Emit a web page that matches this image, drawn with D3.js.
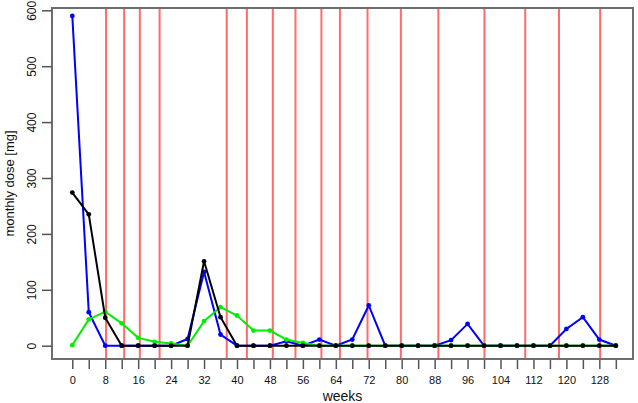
<!DOCTYPE html>
<html>
<head>
<meta charset="utf-8">
<script src="https://cdn.jsdelivr.net/npm/d3@7"></script>
<style>
  body { margin: 0; background: #fff; }
  text { font-family: "Liberation Sans", Arial, sans-serif; }
</style>
</head>
<body>
<svg id="chart" width="638" height="403"></svg>
<script>
// weeks sampled every 4 weeks
var weeks = d3.range(0, 133, 4);

var blueDose = [590, 60, 0, 0, 0, 0, 0, 12, 132, 20, 0, 0, 0, 8, 0, 11, 0, 11, 72, 0,
                0, 0, 0, 10, 39, 0, 0, 0, 0, 0, 30, 51, 11, 0];
var greenDose = [1, 47, 61, 40, 14, 7, 4, 0, 44, 69, 54, 27, 27, 11, 5, 0, 0, 0, 0, 0,
                 0, 0, 0, 0, 0, 0, 0, 0, 0, 0, 0, 0, 0, 0];
var blackDose = [274, 235, 50, 0, 0, 0, 0, 0, 151, 51, 0, 0, 0, 0, 0, 0, 0, 0, 0, 0,
                 0, 0, 0, 0, 0, 0, 0, 0, 0, 0, 0, 0, 0, 0];

// red marker lines (weeks)
var redLines = [8.2, 12.6, 16.4, 21.2, 37.5, 42.4, 48.7, 54.2, 60.5, 65, 71.7, 79.8,
                88.9, 100.1, 110, 118.2, 128.2];

var xTicks = d3.range(0, 133, 4);
var yTicks = [0, 100, 200, 300, 400, 500, 600];

var svg = d3.select("#chart");
var box = { left: 52, right: 633, top: 8, bottom: 359 };

var x = d3.scaleLinear().domain([0, 132]).range([72.3, 615.8]);
var y = d3.scaleLinear().domain([0, 600]).range([345.7, 10.3]);

// red vertical lines
svg.append("g")
  .selectAll("line")
  .data(redLines)
  .enter()
  .append("line")
    .attr("x1", d => x(d))
    .attr("x2", d => x(d))
    .attr("y1", box.top)
    .attr("y2", box.bottom)
    .attr("stroke", "#ff5050")
    .attr("stroke-opacity", 0.85)
    .attr("stroke-width", 2);

function drawSeries(values, color) {
  var pts = weeks.map((w, i) => ({ w: w, v: values[i] }));
  var line = d3.line().x(d => x(d.w)).y(d => y(d.v));
  svg.append("path")
    .datum(pts)
    .attr("d", line)
    .attr("fill", "none")
    .attr("stroke", color)
    .attr("stroke-width", 2);
  svg.append("g")
    .selectAll("circle")
    .data(pts)
    .enter()
    .append("circle")
      .attr("cx", d => x(d.w))
      .attr("cy", d => y(d.v))
      .attr("r", 2.4)
      .attr("fill", color);
}

drawSeries(blueDose, "#0000ff");
drawSeries(greenDose, "#00ee00");
drawSeries(blackDose, "#000000");

// box
svg.append("rect")
  .attr("x", box.left)
  .attr("y", box.top)
  .attr("width", box.right - box.left)
  .attr("height", box.bottom - box.top)
  .attr("fill", "none")
  .attr("stroke", "#6e6e6e")
  .attr("stroke-width", 2);

// x axis
var xAxis = d3.axisBottom(x)
  .tickValues(xTicks)
  .tickSize(9)
  .tickPadding(7)
  .tickFormat(d => d % 8 === 0 && d <= 128 ? d : "");

var gx = svg.append("g")
  .attr("transform", "translate(0," + (box.bottom + 1) + ")")
  .call(xAxis);
gx.select(".domain").remove();
gx.selectAll(".tick line").attr("stroke", "#555").attr("stroke-width", 1.5);
gx.selectAll(".tick text").attr("font-size", 11).attr("fill", "#111");

// y axis
var yAxis = d3.axisLeft(y)
  .tickValues(yTicks)
  .tickSize(10)
  .tickPadding(0);

var gy = svg.append("g")
  .attr("transform", "translate(" + box.left + ",0)")
  .call(yAxis);
gy.select(".domain").remove();
gy.selectAll(".tick line").attr("stroke", "#555").attr("stroke-width", 1.5);
gy.selectAll(".tick text")
  .attr("font-size", 12)
  .attr("fill", "#111")
  .attr("x", 0)
  .attr("dy", 0)
  .attr("text-anchor", "middle")
  .attr("transform", "translate(-16,0) rotate(-90)");

// axis titles
svg.append("text")
  .attr("x", (box.left + box.right) / 2)
  .attr("y", 401)
  .attr("text-anchor", "middle")
  .attr("font-size", 14)
  .attr("fill", "#111")
  .text("weeks");

svg.append("text")
  .attr("transform", "translate(14," + ((box.top + box.bottom) / 2) + ") rotate(-90)")
  .attr("text-anchor", "middle")
  .attr("font-size", 13)
  .attr("fill", "#111")
  .text("monthly dose [mg]");
</script>
</body>
</html>
